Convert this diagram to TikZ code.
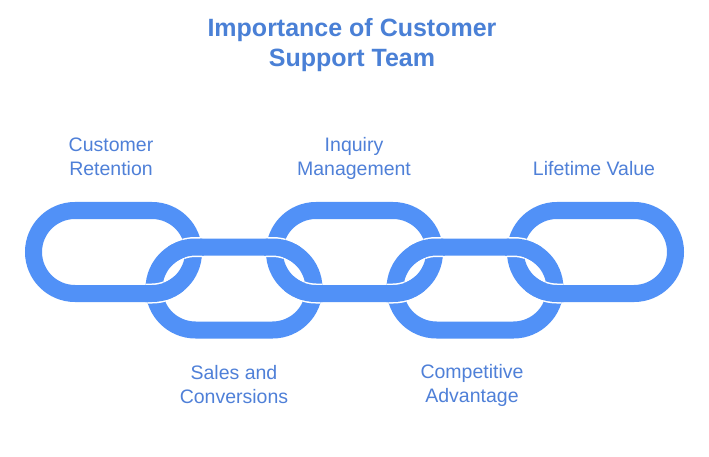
\documentclass[tikz,border=0pt]{standalone}
\usepackage{fontspec}
\setmainfont{Liberation Sans}
\definecolor{chainblue}{HTML}{5191F7}
\definecolor{titleblue}{HTML}{4A80D6}
\definecolor{labelblue}{HTML}{4F80D8}
\begin{document}
\begin{tikzpicture}[x=1pt,y=-1pt,
  chain/.style={draw=chainblue,line width=17pt,rounded corners=41.5pt},
  gap/.style={draw=white,line width=20pt,rounded corners=41.5pt},
  lbl/.style={text=labelblue,font=\fontsize{19.5}{24}\selectfont,align=center,inner sep=0pt},
  ttl/.style={text=titleblue,font=\bfseries\fontsize{25}{30}\selectfont,align=center,inner sep=0pt}]
\useasboundingbox[fill=white] (0,0) rectangle (709,457);
% links (centre lines)
\newcommand\linkone{(33.5,210.5) rectangle (193.5,293.5)}
\newcommand\linktwo{(154,247) rectangle (314,330)}
\newcommand\linkthree{(274.5,210.5) rectangle (434.5,293.5)}
\newcommand\linkfour{(395,247) rectangle (555,330)}
\newcommand\linkfive{(515.5,210.5) rectangle (675.5,293.5)}
% stadium round a centre line #1-#4, pushed out by #5
\newcommand\stad[5]{({#1+41.5},{(#2+#4)/2-41.5-(#5)}) -- ({#3-41.5},{(#2+#4)/2-41.5-(#5)})
  arc[start angle=90,end angle=-90,radius={41.5pt+(#5pt)}]
  -- ({#1+41.5},{(#2+#4)/2+41.5+(#5)})
  arc[start angle=270,end angle=90,radius={41.5pt+(#5pt)}] -- cycle}
% #1 link drawn on top; #2-#5 centre line of the link below; #6-#9 crossing box
\newcommand\overlay[9]{%
  \begin{scope}
    \clip (#6,#7) rectangle (#8,#9);
    \begin{scope}[even odd rule]
      \clip \stad{#2}{#3}{#4}{#5}{8.5} \stad{#2}{#3}{#4}{#5}{-8.5};
      \draw[gap] #1;
    \end{scope}
    \begin{scope}
      \clip \stad{#2}{#3}{#4}{#5}{10.5};
      \draw[chain] #1;
    \end{scope}
  \end{scope}}
\draw[chain] \linkone;
\draw[chain] \linktwo;
\draw[chain] \linkthree;
\draw[chain] \linkfour;
\draw[chain] \linkfive;
% link 1 / link 2
\overlay{\linktwo}{33.5}{210.5}{193.5}{293.5}{168}{226}{224}{266}
\overlay{\linkone}{154}{247}{314}{330}{134}{276}{184}{314}
% link 2 / link 3
\overlay{\linktwo}{274.5}{210.5}{434.5}{293.5}{244}{226}{300}{266}
\overlay{\linkthree}{154}{247}{314}{330}{284}{276}{334}{314}
% link 3 / link 4
\overlay{\linkfour}{274.5}{210.5}{434.5}{293.5}{409}{226}{465}{266}
\overlay{\linkthree}{395}{247}{555}{330}{375}{276}{425}{314}
% link 4 / link 5
\overlay{\linkfour}{515.5}{210.5}{675.5}{293.5}{485}{226}{541}{266}
\overlay{\linkfive}{395}{247}{555}{330}{525}{276}{575}{314}
% texts
\node[ttl] (title) at (352,45) {Importance of Customer\\Support Team};
\node[lbl] (retention) at (111,157) {Customer\\Retention};
\node[lbl] (inquiry) at (354,158) {Inquiry\\Management};
\node[lbl] (lifetime) at (594,169) {Lifetime Value};
\node[lbl] (sales) at (234,385) {Sales and\\Conversions};
\node[lbl] (competitive) at (472,385) {Competitive\\Advantage};
\end{tikzpicture}
\end{document}
